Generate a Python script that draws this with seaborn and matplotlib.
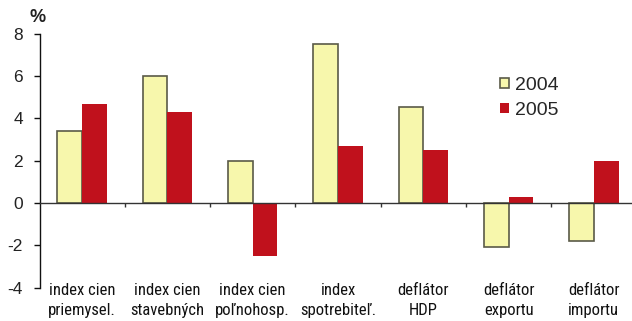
import matplotlib
matplotlib.use("Agg")
import matplotlib.pyplot as plt
import seaborn as sns
import pandas as pd
from matplotlib.patches import Patch

categories = ["index cien\npriemysel.", "index cien\nstavebných", "index cien\npoľnohosp.",
              "index\nspotrebiteľ.", "deflátor\nHDP", "deflátor\nexportu", "deflátor\nimportu"]
values_2004 = [3.4, 6.0, 2.0, 7.5, 4.55, -2.1, -1.8]
values_2005 = [4.7, 4.3, -2.5, 2.7, 2.5, 0.3, 2.0]
years = ["2004", "2005"]
y_ticks = [-4, -2, 0, 2, 4, 6, 8]

color_2004 = "#F7F7AC"
color_2005 = "#C0111C"
edge_2004 = "#5A5A48"

df = pd.DataFrame({
    "cat": categories * 2,
    "year": [years[0]] * len(categories) + [years[1]] * len(categories),
    "val": values_2004 + values_2005,
})

sns.set_theme(style="white")
plt.rcParams["font.family"] = ["Liberation Sans", "DejaVu Sans"]

fig = plt.figure(figsize=(6.32, 3.21), dpi=100)
ax = fig.add_axes([39.5 / 632, 33.3 / 321, 597 / 632, 254 / 321])

sns.barplot(data=df, x="cat", y="val", hue="year", order=categories, hue_order=years,
            palette=[color_2004, color_2005], width=0.58, ax=ax, legend=False,
            saturation=1, linewidth=0)

for p in ax.containers[0]:
    p.set_edgecolor(edge_2004)
    p.set_linewidth(1.2)
for p in ax.containers[1]:
    p.set_edgecolor("none")

ax.set_xlim(-0.5, len(categories) - 0.5)
ax.set_ylim(-4, 8)
ax.set_yticks(y_ticks)
ax.set_yticklabels([str(t) for t in y_ticks], fontsize=12.5)
ax.set_xlabel("")
ax.set_ylabel("")

# zero line carries the separator ticks between groups
ax.spines["bottom"].set_position(("data", 0))
ax.spines["bottom"].set_color("#333333")
ax.spines["bottom"].set_linewidth(1.0)
ax.spines["top"].set_visible(False)
ax.spines["right"].set_visible(False)
ax.spines["left"].set_color("#111111")
ax.spines["left"].set_linewidth(1.0)
ax.set_xticks([i + 0.5 for i in range(len(categories) - 1)])
ax.set_xticklabels([])
ax.tick_params(axis="x", direction="out", length=3, width=1, color="#333333", bottom=True)
ax.tick_params(axis="y", direction="out", length=4.3, width=1, color="#111111", left=True,
               pad=7.5, labelcolor="#222222")

for i, c in enumerate(categories):
    ax.text(i, 0.02, c, transform=ax.get_xaxis_transform(), ha="center", va="top",
            fontsize=12, linespacing=1.45, color="#111111",
            family=["Roboto Condensed", "DejaVu Sans"])

fig.text(37.5 / 632, 1 - 18 / 321, "%", ha="center", va="center", fontsize=13,
         fontweight="bold", color="#222222")

handles = [Patch(facecolor=color_2004, edgecolor=edge_2004, linewidth=1.2),
           Patch(facecolor=color_2005, edgecolor="none")]
fig.legend(handles, years, loc="upper left", bbox_to_anchor=(500 / 632, 1 - 77 / 321),
           frameon=False, fontsize=14, handlelength=0.45, handleheight=0.45,
           handletextpad=0.3, labelspacing=0.4, borderaxespad=0, borderpad=0)

fig.savefig("out.png", dpi=100, facecolor="white")
